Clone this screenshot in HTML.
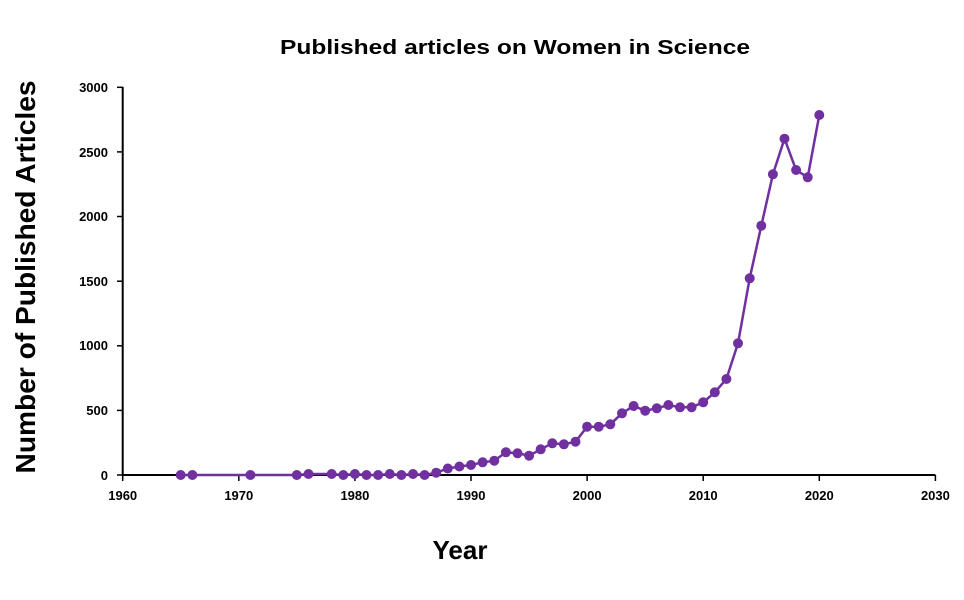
<!DOCTYPE html>
<html><head><meta charset="utf-8"><style>html,body{margin:0;padding:0;background:#fff;}svg{display:block;}</style></head>
<body>
<svg width="964" height="600" viewBox="0 0 964 600" xmlns="http://www.w3.org/2000/svg" font-family="Liberation Sans, sans-serif" font-weight="bold">
<text x="515" y="54" font-size="20" text-anchor="middle" textLength="470" lengthAdjust="spacingAndGlyphs">Published articles on Women in Science</text>
<text transform="translate(35,277) rotate(-90)" font-size="28" text-anchor="middle" textLength="393" lengthAdjust="spacingAndGlyphs">Number of Published Articles</text>
<text x="460" y="559" font-size="26" text-anchor="middle">Year</text>
<g stroke="#000" stroke-width="2" fill="none">
<line x1="122.7" y1="87" x2="122.7" y2="475"/>
<line x1="122" y1="475" x2="935.4" y2="475"/>
</g>
<g stroke="#000" stroke-width="1.5">
<line x1="117" y1="87.3" x2="123" y2="87.3"/><line x1="117" y1="151.9" x2="123" y2="151.9"/><line x1="117" y1="216.5" x2="123" y2="216.5"/><line x1="117" y1="281.2" x2="123" y2="281.2"/><line x1="117" y1="345.8" x2="123" y2="345.8"/><line x1="117" y1="410.4" x2="123" y2="410.4"/><line x1="117" y1="475" x2="123" y2="475"/>
<line x1="122.7" y1="475" x2="122.7" y2="481"/><line x1="238.8" y1="475" x2="238.8" y2="481"/><line x1="354.9" y1="475" x2="354.9" y2="481"/><line x1="471" y1="475" x2="471" y2="481"/><line x1="587.1" y1="475" x2="587.1" y2="481"/><line x1="703.2" y1="475" x2="703.2" y2="481"/><line x1="819.3" y1="475" x2="819.3" y2="481"/><line x1="935.4" y1="475" x2="935.4" y2="481"/>
</g>
<g font-size="13" text-anchor="end">
<text x="108" y="92">3000</text><text x="108" y="157">2500</text><text x="108" y="221">2000</text><text x="108" y="286">1500</text><text x="108" y="350">1000</text><text x="108" y="415">500</text><text x="108" y="480">0</text>
</g>
<g font-size="13" text-anchor="middle">
<text x="122.7" y="500">1960</text><text x="238.8" y="500">1970</text><text x="354.9" y="500">1980</text><text x="471" y="500">1990</text><text x="587.1" y="500">2000</text><text x="703.2" y="500">2010</text><text x="819.3" y="500">2020</text><text x="935.4" y="500">2030</text>
</g>
<polyline fill="none" stroke="#7030a0" stroke-width="2.5" points="180.7,475 192.4,475 250.4,475 296.8,475 308.5,474 331.7,474 343.3,475 354.9,474 366.5,475 378.1,475 389.8,474 401.4,475 413,474 424.6,475 436.2,472.7 447.8,468.5 459.4,466.5 471,465 482.6,462.3 494.3,460.7 505.9,452.3 517.5,453.3 529.1,455.7 540.7,449.3 552.3,443.3 563.9,444.3 575.5,441.7 587.1,426.7 598.7,426.7 610.3,424.3 622,413.3 633.6,406 645.2,410.7 656.8,408.3 668.4,405 680,407.3 691.6,407.3 703.2,402.3 714.8,392.3 726.4,379 738,343.3 749.7,278.3 761.3,225.7 772.9,174.3 784.5,138.7 796.1,170 807.7,177.3 819.3,115"/>
<g fill="#7030a0">
<circle cx="180.7" cy="475" r="5"/><circle cx="192.4" cy="475" r="5"/><circle cx="250.4" cy="475" r="5"/><circle cx="296.8" cy="475" r="5"/><circle cx="308.5" cy="474" r="5"/><circle cx="331.7" cy="474" r="5"/><circle cx="343.3" cy="475" r="5"/><circle cx="354.9" cy="474" r="5"/><circle cx="366.5" cy="475" r="5"/><circle cx="378.1" cy="475" r="5"/><circle cx="389.8" cy="474" r="5"/><circle cx="401.4" cy="475" r="5"/><circle cx="413" cy="474" r="5"/><circle cx="424.6" cy="475" r="5"/><circle cx="436.2" cy="472.7" r="5"/><circle cx="447.8" cy="468.5" r="5"/><circle cx="459.4" cy="466.5" r="5"/><circle cx="471" cy="465" r="5"/><circle cx="482.6" cy="462.3" r="5"/><circle cx="494.3" cy="460.7" r="5"/><circle cx="505.9" cy="452.3" r="5"/><circle cx="517.5" cy="453.3" r="5"/><circle cx="529.1" cy="455.7" r="5"/><circle cx="540.7" cy="449.3" r="5"/><circle cx="552.3" cy="443.3" r="5"/><circle cx="563.9" cy="444.3" r="5"/><circle cx="575.5" cy="441.7" r="5"/><circle cx="587.1" cy="426.7" r="5"/><circle cx="598.7" cy="426.7" r="5"/><circle cx="610.3" cy="424.3" r="5"/><circle cx="622" cy="413.3" r="5"/><circle cx="633.6" cy="406" r="5"/><circle cx="645.2" cy="410.7" r="5"/><circle cx="656.8" cy="408.3" r="5"/><circle cx="668.4" cy="405" r="5"/><circle cx="680" cy="407.3" r="5"/><circle cx="691.6" cy="407.3" r="5"/><circle cx="703.2" cy="402.3" r="5"/><circle cx="714.8" cy="392.3" r="5"/><circle cx="726.4" cy="379" r="5"/><circle cx="738" cy="343.3" r="5"/><circle cx="749.7" cy="278.3" r="5"/><circle cx="761.3" cy="225.7" r="5"/><circle cx="772.9" cy="174.3" r="5"/><circle cx="784.5" cy="138.7" r="5"/><circle cx="796.1" cy="170" r="5"/><circle cx="807.7" cy="177.3" r="5"/><circle cx="819.3" cy="115" r="5"/>
</g>
</svg>
</body></html>
